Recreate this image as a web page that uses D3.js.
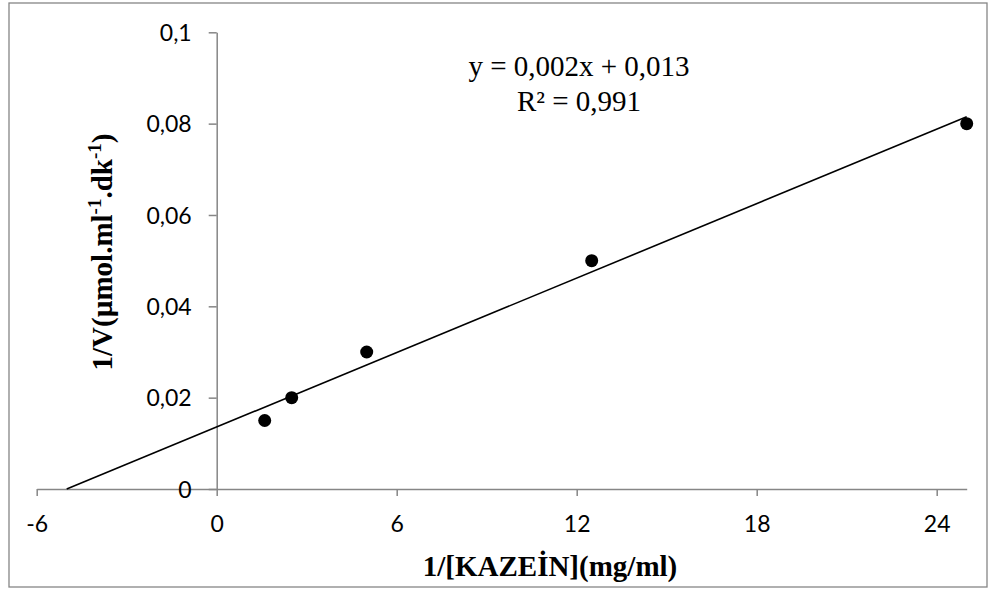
<!DOCTYPE html>
<html>
<head>
<meta charset="utf-8">
<script src="https://cdn.jsdelivr.net/npm/d3@7"></script>
<style>
  html, body { margin: 0; padding: 0; background: #fff; }
  svg { display: block; }
</style>
</head>
<body>
<svg id="chart" width="992" height="590"></svg>
<script>
// ---- data ----
const xValues = [1.6, 2.5, 5, 12.5, 25];
const yValues = [0.015, 0.02, 0.03, 0.05, 0.08];
const trendX = [-5, 25];
const trendY = [0, 0.0815];
const xTicks = [-6, 0, 6, 12, 18, 24];
const yTicks = [0, 0.02, 0.04, 0.06, 0.08, 0.1];
const equationLines = ["y = 0,002x + 0,013", "R² = 0,991"];
const xTitle = "1/[KAZEİN](mg/ml)";

const svg = d3.select("#chart");
const axisColor = "#868686";

// outer border
svg.append("rect")
  .attr("x", 9).attr("y", 3).attr("width", 978).attr("height", 584)
  .attr("fill", "#fff").attr("stroke", axisColor).attr("stroke-width", 1.3);

const x = d3.scaleLinear().domain([-6, 25]).range([36.7, 966.7]);
const y = d3.scaleLinear().domain([0, 0.1]).range([489, 32.3]);

const fmt = d => String(d).replace(".", ",");

// x axis at y=0
const xAxis = d3.axisBottom(x).tickValues(xTicks).tickSize(7).tickSizeOuter(0).tickFormat(fmt);
const gx = svg.append("g").attr("transform", `translate(0,${y(0)})`).call(xAxis);
gx.select(".domain").attr("stroke", axisColor).attr("stroke-width", 1.5);
gx.selectAll(".tick line").attr("stroke", axisColor).attr("stroke-width", 1.5);
gx.selectAll(".tick text")
  .attr("fill", "#000").attr("font-family", "Lato, 'Open Sans', sans-serif")
  .attr("font-size", 23).attr("dy", null).attr("y", 43);

// y axis at x=0
const yAxis = d3.axisLeft(y).tickValues(yTicks).tickSize(8).tickSizeOuter(0).tickFormat(fmt);
const gy = svg.append("g").attr("transform", `translate(${x(0)},0)`).call(yAxis);
gy.select(".domain").attr("stroke", axisColor).attr("stroke-width", 1.5);
gy.selectAll(".tick line").attr("stroke", axisColor).attr("stroke-width", 1.5);
gy.selectAll(".tick text")
  .attr("fill", "#000").attr("font-family", "Lato, 'Open Sans', sans-serif")
  .attr("font-size", 23).attr("x", -25).attr("dy", "0.35em");

// trend line
svg.append("line")
  .attr("x1", x(trendX[0])).attr("y1", y(trendY[0]))
  .attr("x2", x(trendX[1])).attr("y2", y(trendY[1]))
  .attr("stroke", "#000").attr("stroke-width", 1.6);

// points
svg.selectAll("circle.pt").data(xValues.map((d, i) => [d, yValues[i]]))
  .enter().append("circle").attr("class", "pt")
  .attr("cx", d => x(d[0])).attr("cy", d => y(d[1])).attr("r", 6.5)
  .attr("fill", "#000");

// equation
const eq = svg.append("text")
  .attr("font-family", "'Liberation Serif', 'Times New Roman', serif")
  .attr("font-size", 29).attr("text-anchor", "middle").attr("fill", "#000");
equationLines.forEach((t, i) => {
  eq.append("tspan").attr("x", 579).attr("y", 76 + i * 35).text(t);
});

// x title
svg.append("text")
  .attr("x", 550).attr("y", 576)
  .attr("text-anchor", "middle")
  .attr("font-family", "'Liberation Serif', 'Times New Roman', serif")
  .attr("font-weight", "bold").attr("font-size", 29).attr("fill", "#000")
  .text(xTitle);

// y title (with superscripts)
const yt = svg.append("text")
  .attr("transform", "translate(112,252) rotate(-90)")
  .attr("text-anchor", "middle")
  .attr("font-family", "'Liberation Serif', 'Times New Roman', serif")
  .attr("font-weight", "bold").attr("font-size", 29).attr("fill", "#000");
yt.append("tspan").text("1/V(µmol.ml");
yt.append("tspan").attr("font-size", 19).attr("dy", -11).text("-1");
yt.append("tspan").attr("dy", 11).text(".dk");
yt.append("tspan").attr("font-size", 19).attr("dy", -11).text("-1");
yt.append("tspan").attr("dy", 11).text(")");
</script>
</body>
</html>
